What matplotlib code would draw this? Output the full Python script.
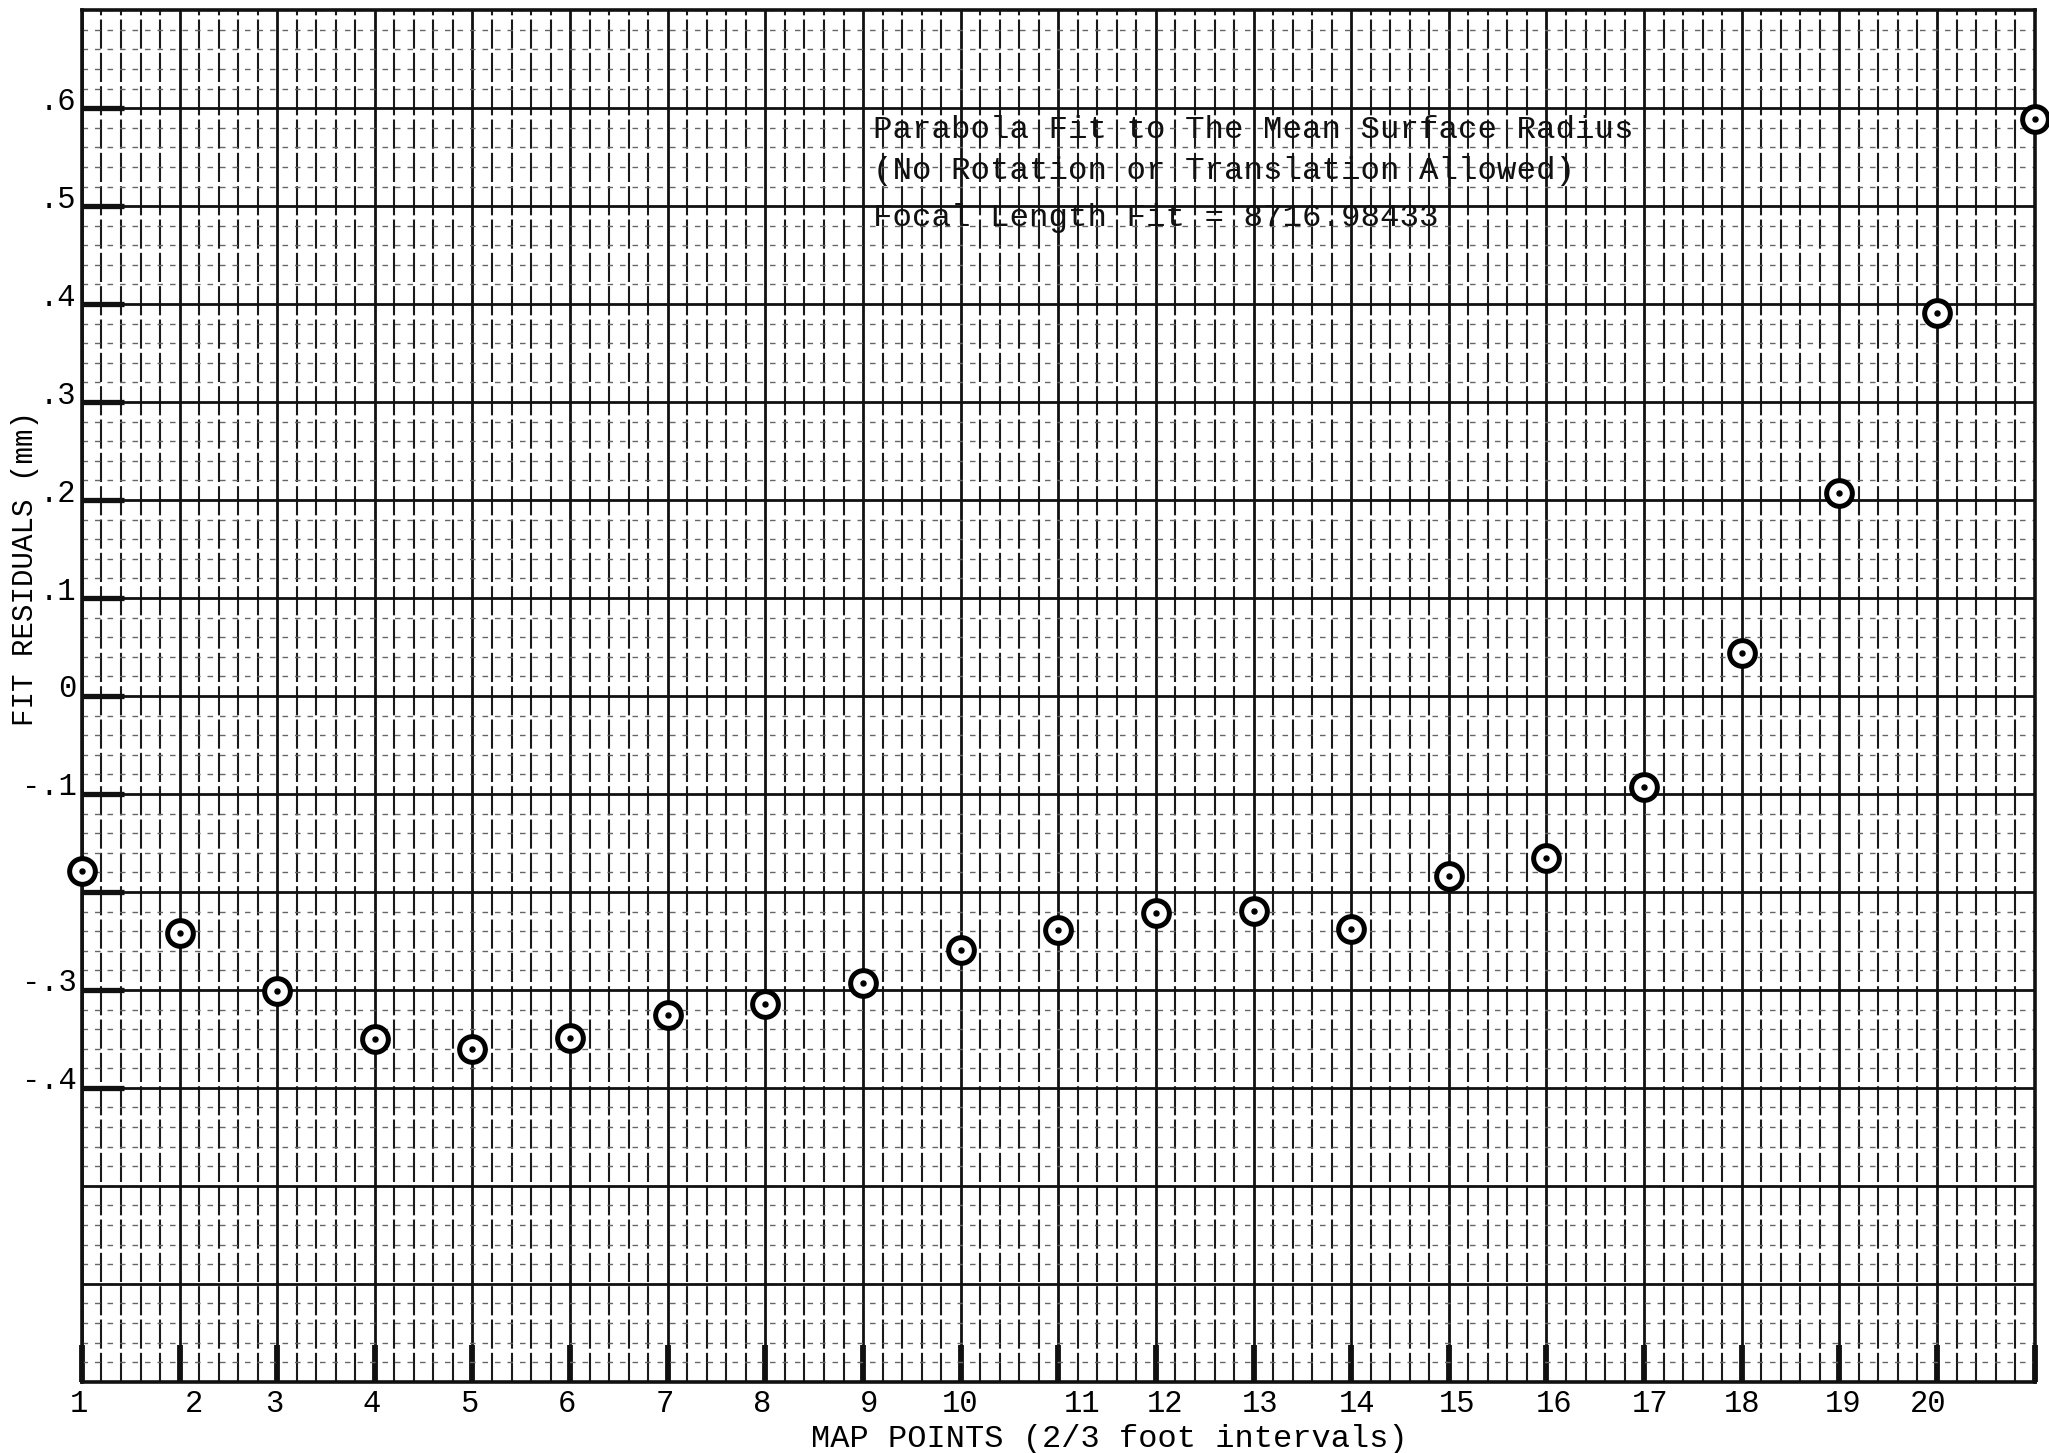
import matplotlib.pyplot as plt
import matplotlib.transforms as mtransforms
import numpy as np
from matplotlib.ticker import MultipleLocator

# map point index and fit residual (mm)
map_points = np.arange(1, 22)
residuals = [-0.179, -0.242, -0.301, -0.350, -0.360, -0.349, -0.326, -0.314,
             -0.293, -0.259, -0.239, -0.221, -0.219, -0.238, -0.184, -0.165,
             -0.093, 0.044, 0.207, 0.391, 0.589]

x_ticks = list(range(1, 22))
x_ticklabels = [str(i) for i in range(1, 21)] + [""]
# typewriter labels are not quite centred under their ticks (pixels)
x_label_shift = [-3, 14, -3, -3, -3, -3, -3, -3, 6, -1, 24, 9, 6, 6, 8, 8,
                 6, 0, 4, -9, 0]
y_ticks = [0.6, 0.5, 0.4, 0.3, 0.2, 0.1, 0.0, -0.1, -0.2, -0.3, -0.4]
y_ticklabels = [".6", ".5", ".4", ".3", ".2", ".1", "0", "-.1", "", "-.3", "-.4"]
extra_rules = [-0.5, -0.6]

note_lines = ["Parabola Fit to The Mean Surface Radius",
              "(No Rotation or Translation Allowed)",
              "Focal Length Fit = 8716.98433"]
note_y = [0.578, 0.536, 0.488]

FONT = "Liberation Mono"
INK = "#111111"

fig = plt.figure(figsize=(20.49, 14.53), dpi=100)
ax = fig.add_axes([0.040, 0.049, 0.953, 0.944])
ax.set_xlim(1, 21)
ax.set_ylim(-0.7, 0.7)

# graph paper
ax.set_xticks(x_ticks)
ax.set_yticks(y_ticks)
ax.xaxis.set_minor_locator(MultipleLocator(0.2))
ax.yaxis.set_minor_locator(MultipleLocator(0.02))
ax.xaxis.grid(True, which="major", color=INK, lw=2.0)
ax.yaxis.grid(True, which="major", color=INK, lw=2.0)
ax.xaxis.grid(True, which="minor", color="#1a1a1a", lw=1.5, ls=(0, (14, 2)))
ax.yaxis.grid(True, which="minor", color="#666666", lw=1.0, ls=(0, (4, 5)))
for yv in extra_rules:
    ax.axhline(yv, color=INK, lw=2.0, zorder=0.6)
ax.set_axisbelow(True)

for sp in ax.spines.values():
    sp.set_linewidth(2.6)
    sp.set_color(INK)

ax.set_xticklabels(x_ticklabels, fontfamily=FONT, fontsize=22, color="black")
ax.set_yticklabels(y_ticklabels, fontfamily=FONT, fontsize=22, color="black")
ax.tick_params(axis="y", which="major", direction="in", length=30, width=3.8,
               color=INK, pad=4)
ax.tick_params(axis="x", which="major", direction="in", length=27, width=4.2,
               color=INK, pad=5)
ax.tick_params(which="minor", length=0)

lift = mtransforms.ScaledTranslation(0, 0.10, fig.dpi_scale_trans)
for lab in ax.get_yticklabels():
    lab.set_transform(lab.get_transform() + lift)
for lab, dx in zip(ax.get_xticklabels(), x_label_shift):
    shift = mtransforms.ScaledTranslation(dx / 100, 0, fig.dpi_scale_trans)
    lab.set_transform(lab.get_transform() + shift)

ax.set_xlabel("MAP POINTS (2/3 foot intervals)", fontfamily=FONT, fontsize=23)
ax.xaxis.set_label_coords(0.526, -0.031)
ax.set_ylabel("FIT RESIDUALS (mm)", fontfamily=FONT, fontsize=21)
ax.yaxis.set_label_coords(-0.022, 0.593)

# hand-drawn circled points
ax.plot(map_points, residuals, ls="none", marker="o", ms=18.5, mfc="white",
        mec="black", mew=3.6, zorder=5, clip_on=False)
ax.plot(map_points, residuals, ls="none", marker="o", ms=3.6, mfc="black",
        mec="black", zorder=6, clip_on=False)

for txt, yv in zip(note_lines, note_y):
    ax.text(9.10, yv, txt, fontfamily=FONT, fontsize=23.4, color=INK,
            ha="left", va="center", zorder=4)

fig.savefig("out.png", dpi=100)
